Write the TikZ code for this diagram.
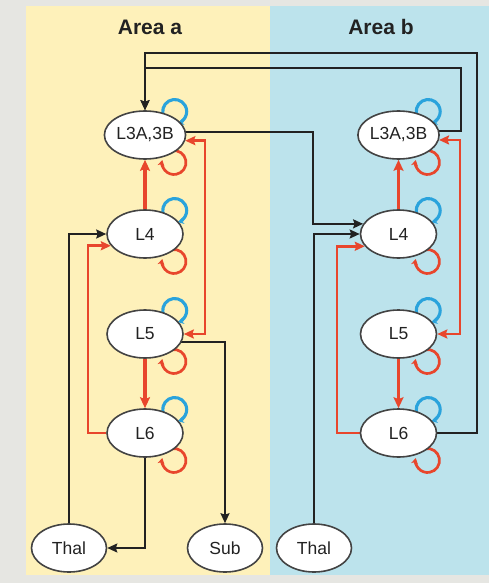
\documentclass[tikz,border=0pt]{standalone}
\usepackage{fontspec}
\setmainfont{Liberation Sans}
\usetikzlibrary{shapes.geometric,arrows.meta}
\definecolor{bggray}{HTML}{E6E6E2}
\definecolor{panelyellow}{HTML}{FEF1BA}
\definecolor{panelblue}{HTML}{BCE3EC}
\definecolor{linered}{HTML}{E8462C}
\definecolor{loopblue}{HTML}{2AA3DC}
\definecolor{lineblack}{HTML}{222222}
\pgfdeclarelayer{bglayer}
\pgfdeclarelayer{edgelayer}
\pgfsetlayers{bglayer,edgelayer,main}
\tikzset{
  layernode/.style={ellipse, draw=lineblack!85, line width=1.6pt, fill=white,
    minimum width=76pt, minimum height=48pt, inner sep=0pt,
    font=\fontsize{17.5}{19}\selectfont, text=lineblack},
  blk/.style={draw=lineblack, line width=1.9pt, -{Stealth[length=10pt,width=9pt,inset=1.5pt]}},
  redthin/.style={draw=linered, line width=2.6pt, -{Stealth[length=10pt,width=9pt,inset=1.5pt]}},
  redboth/.style={draw=linered, line width=2.6pt, {Stealth[length=10pt,width=9pt,inset=1.5pt]}-{Stealth[length=10pt,width=9pt,inset=1.5pt]}},
  redthick/.style={draw=linered, line width=3.8pt, -{Stealth[length=11pt,width=10pt,inset=2pt]}},
  blueloop/.style={draw=loopblue, line width=3.1pt, -{Stealth[length=6pt,width=7pt]}},
  redloop/.style={draw=linered, line width=2.7pt, -{Stealth[length=6pt,width=7pt]}},
  areatitle/.style={font=\fontsize{21}{24}\selectfont\bfseries, text=lineblack}
}
\begin{document}
\begin{tikzpicture}[x=1pt,y=1pt]
\begin{pgfonlayer}{bglayer}
\fill[bggray] (0,0) rectangle (489,-583);
\fill[panelyellow] (26,-6) rectangle (270,-575);
\fill[panelblue] (270,-6) rectangle (489,-575);
\end{pgfonlayer}
\useasboundingbox (0,0) rectangle (489,-583);

\node[areatitle] (ta) at (150,-27) {Area a};
\node[areatitle] (tb) at (381,-27) {Area b};

% Area a
\node[layernode] (L3Aa) at (145,-135) {L3A,3B};
\node[layernode] (L4a) at (145,-234) {L4};
\node[layernode] (L5a) at (145,-334) {L5};
\node[layernode] (L6a) at (145,-433) {L6};
\node[layernode, minimum width=75pt] (Thala) at (69,-548) {Thal};
\node[layernode, minimum width=75pt] (Sub) at (225,-548) {Sub};
% Area b
\node[layernode] (L3Ab) at (398.5,-135) {L3A,3B};
\node[layernode] (L4b) at (398.5,-234) {L4};
\node[layernode] (L5b) at (398.5,-334) {L5};
\node[layernode] (L6b) at (398.5,-433) {L6};
\node[layernode, minimum width=75pt] (Thalb) at (314,-548) {Thal};

\begin{pgfonlayer}{edgelayer}
% self loops
\foreach \n in {L3Aa,L4a,L5a,L6a,L3Ab,L4b,L5b,L6b}{
  \draw[blueloop, shift={(\n.center)}] (29.7,23.5) ++(210:12pt) arc[start angle=210, end angle=-75, radius=12pt];
  \draw[redloop, shift={(\n.center)}] (29,-27.5) ++(100:12pt) arc[start angle=100, end angle=-192, radius=12pt];
}
% thick red feedforward
\draw[redthick] (L4a.north) -- (L3Aa.south);
\draw[redthick] (L5a.south) -- (L6a.north);
\draw[redthick] (L4b.north) -- (L3Ab.south);
\draw[redthick] (L5b.south) -- (L6b.north);
% area a
\draw[blk] (Thala.north) |- (L4a.west);
\draw[redthin] (L6a.west) -| (88,-300) |- (L4a.199);
\draw[redboth] (L3Aa.352) -| (205,-250) |- (L5a.east);
\draw[blk] (L5a.347) -| (Sub.north);
\draw[blk] (L6a.south) |- (Thala.east);
% inter-area
\draw[blk] (L3Aa.4) -| (313,-180) |- (L4b.164);
\draw[blk] (L3Ab.5) -| (461,-100) |- (300,-68) -| (L3Aa.north);
\draw[blk] (L6b.east) -| (477,-100) |- (300,-53) -| (L3Aa.north);
% area b
\draw[blk] (Thalb.north) |- (L4b.west);
\draw[redthin] (L6b.west) -| (337,-300) |- (L4b.200);
\draw[redboth] (L3Ab.353) -| (460,-250) |- (L5b.east);
\end{pgfonlayer}
\end{tikzpicture}
\end{document}
